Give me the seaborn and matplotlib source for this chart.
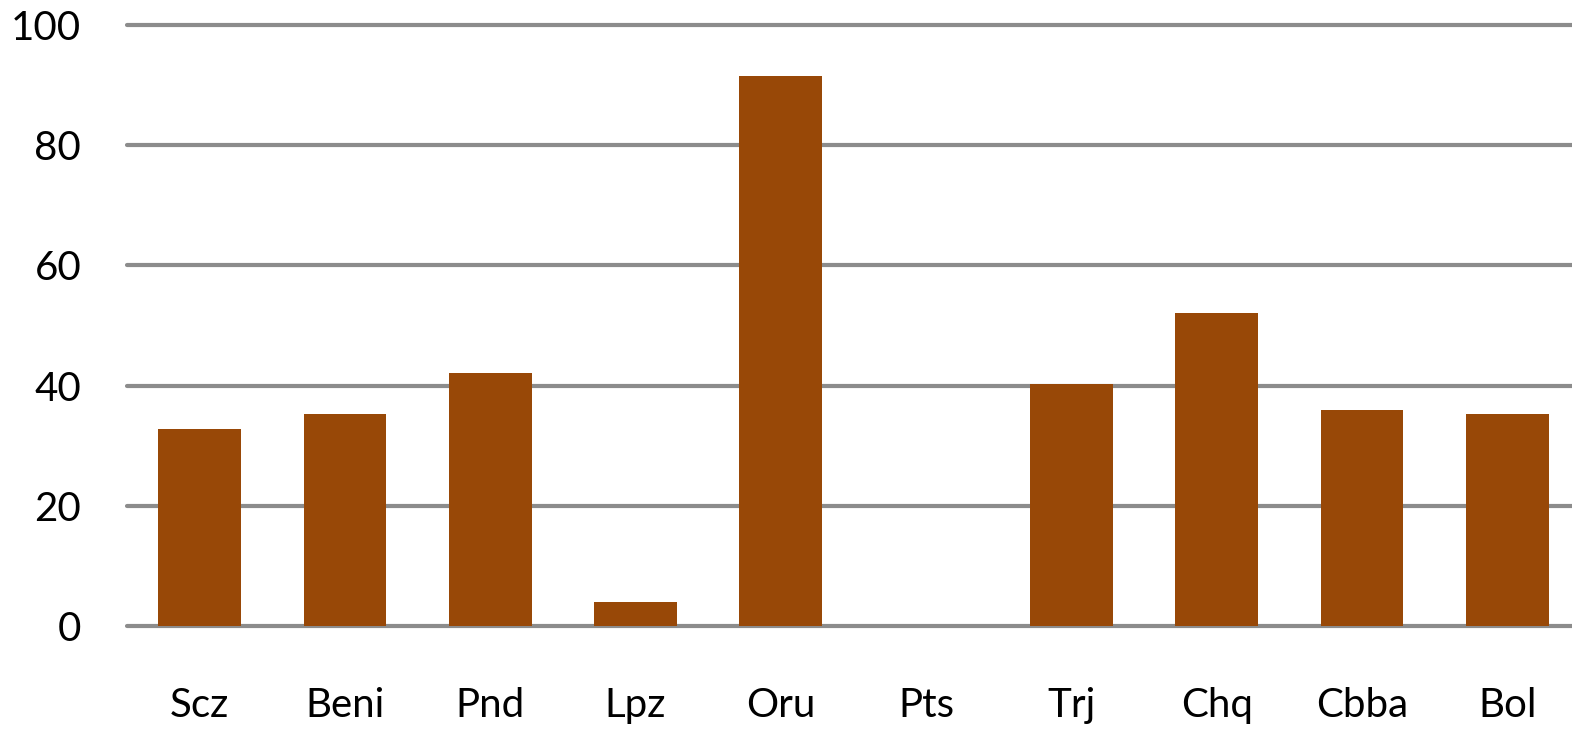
import seaborn as sns
import matplotlib.pyplot as plt
import pandas as pd

regions = ['Scz', 'Beni', 'Pnd', 'Lpz', 'Oru', 'Pts', 'Trj', 'Chq', 'Cbba', 'Bol']
values = [32.8, 35.3, 42.1, 4.0, 91.5, 0.0, 40.3, 52.1, 35.9, 35.3]
yticks = [0, 20, 40, 60, 80, 100]

df = pd.DataFrame({'region': regions, 'value': values})

sns.set_style('white')
plt.rcParams['font.family'] = ['Lato', 'DejaVu Sans']

fig = plt.figure(figsize=(15.72, 7.30), dpi=100)
# axes run a little past the right edge, like the source chart
ax = fig.add_axes([127 / 1572, 1 - 626 / 730, 1453 / 1572, 601 / 730])

sns.barplot(data=df, x='region', y='value', color='#984807', saturation=1,
            width=0.57, linewidth=0, ax=ax, zorder=3)

ax.set_xlim(-0.5, 9.5)
ax.set_ylim(0, 100)
ax.set_yticks(yticks)
ax.yaxis.grid(True, color='#8c8c8c', linewidth=3, zorder=0)
for gl in ax.yaxis.get_gridlines():
    gl.set_clip_on(False)
ax.set_axisbelow(True)
for s in ax.spines.values():
    s.set_visible(False)
ax.set_xlabel('')
ax.set_ylabel('')
ax.tick_params(axis='y', length=0, pad=33, labelsize=29, labelcolor='black')
ax.tick_params(axis='x', length=0, pad=44, labelsize=29, labelcolor='black')

plt.savefig('out.png', dpi=100)
